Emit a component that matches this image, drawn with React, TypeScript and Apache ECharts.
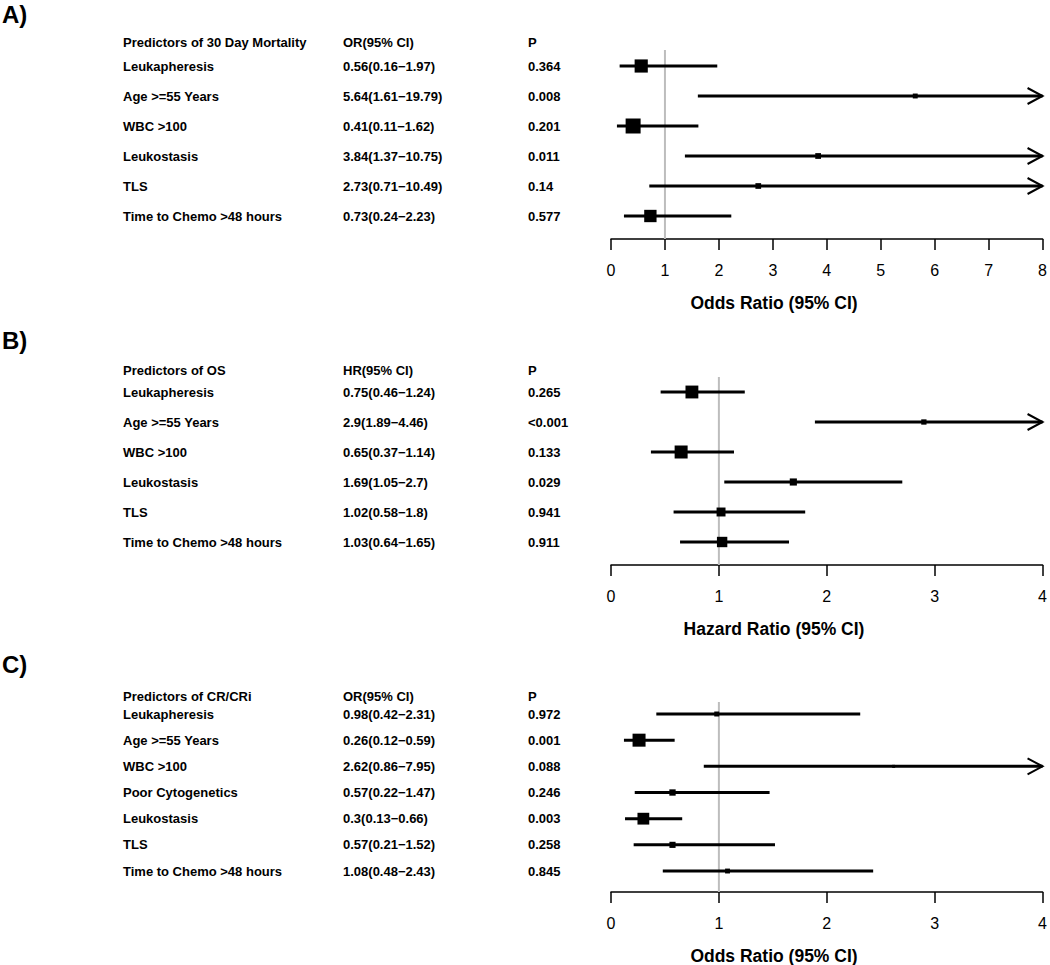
import React, { useEffect, useRef } from "react";
import * as echarts from "echarts";

// ---------- Data ----------
const namesA = ["Leukapheresis", "Age >=55 Years", "WBC >100", "Leukostasis", "TLS", "Time to Chemo >48 hours"];
const estA = [0.56, 5.64, 0.41, 3.84, 2.73, 0.73];
const lowA = [0.16, 1.61, 0.11, 1.37, 0.71, 0.24];
const highA = [1.97, 19.79, 1.62, 10.75, 10.49, 2.23];
const pA = ["0.364", "0.008", "0.201", "0.011", "0.14", "0.577"];

const namesB = ["Leukapheresis", "Age >=55 Years", "WBC >100", "Leukostasis", "TLS", "Time to Chemo >48 hours"];
const estB = [0.75, 2.9, 0.65, 1.69, 1.02, 1.03];
const lowB = [0.46, 1.89, 0.37, 1.05, 0.58, 0.64];
const highB = [1.24, 4.46, 1.14, 2.7, 1.8, 1.65];
const pB = ["0.265", "<0.001", "0.133", "0.029", "0.941", "0.911"];

const namesC = ["Leukapheresis", "Age >=55 Years", "WBC >100", "Poor Cytogenetics", "Leukostasis", "TLS", "Time to Chemo >48 hours"];
const estC = [0.98, 0.26, 2.62, 0.57, 0.3, 0.57, 1.08];
const lowC = [0.42, 0.12, 0.86, 0.22, 0.13, 0.21, 0.48];
const highC = [2.31, 0.59, 7.95, 1.47, 0.66, 1.52, 2.43];
const pC = ["0.972", "0.001", "0.088", "0.246", "0.003", "0.258", "0.845"];

const xTicksA = [0, 8];
const xTicksBC = [0, 4];

// ---------- Layout ----------
const FONT = '"Liberation Sans", Arial, Helvetica, sans-serif';
const GRID_LEFT = 611;
const GRID_WIDTH = 435;

const panels = [
  {
    label: "A)", labelY: 14,
    header: "Predictors of 30 Day Mortality", effHeader: "OR(95% CI)", axisTitle: "Odds Ratio (95% CI)",
    names: namesA, est: estA, low: lowA, high: highA, p: pA, xRange: xTicksA,
    row1Y: 66, spacing: 30, axisY: 239, headerY: 42, refTopY: 50, titleY: 303, boxMin: 4, boxMax: 15,
  },
  {
    label: "B)", labelY: 340,
    header: "Predictors of OS", effHeader: "HR(95% CI)", axisTitle: "Hazard Ratio (95% CI)",
    names: namesB, est: estB, low: lowB, high: highB, p: pB, xRange: xTicksBC,
    row1Y: 392, spacing: 30, axisY: 565, headerY: 370, refTopY: 377, titleY: 629, boxMin: 2, boxMax: 13,
  },
  {
    label: "C)", labelY: 664,
    header: "Predictors of CR/CRi", effHeader: "OR(95% CI)", axisTitle: "Odds Ratio (95% CI)",
    names: namesC, est: estC, low: lowC, high: highC, p: pC, xRange: xTicksBC,
    row1Y: 714, spacing: 26.17, axisY: 892, headerY: 696, refTopY: 702, titleY: 956, boxMin: 2.3, boxMax: 13,
  },
];

function buildOption() {
  const grid: any[] = [];
  const xAxis: any[] = [];
  const yAxis: any[] = [];
  const series: any[] = [];
  const graphic: any[] = [];

  panels.forEach((pn, i) => {
    const top = pn.row1Y - pn.spacing;
    const yMax = (pn.axisY - top) / pn.spacing;
    const headerIdx = (pn.headerY - top) / pn.spacing;
    const refTopIdx = (pn.refTopY - top) / pn.spacing;
    const xMin = pn.xRange[0];
    const xMax = pn.xRange[1];

    grid.push({ left: GRID_LEFT, width: GRID_WIDTH, top, height: pn.axisY - top, containLabel: false });
    xAxis.push({
      gridIndex: i, type: "value", min: xMin, max: xMax, interval: 1,
      axisLine: { show: true, onZero: false, lineStyle: { color: "#000", width: 1.5 } },
      axisTick: { show: true, length: 11, lineStyle: { color: "#000", width: 1.5 } },
      axisLabel: { color: "#000", fontSize: 16, fontFamily: FONT, margin: 23 },
      splitLine: { show: false },
    });
    yAxis.push({ gridIndex: i, type: "value", inverse: true, min: 0, max: yMax, show: false });

    // reference line at 1
    series.push({
      type: "line", xAxisIndex: i, yAxisIndex: i, silent: true, symbol: "none", z: 1,
      data: [[1, refTopIdx], [1, yMax]],
      lineStyle: { color: "#bdbdbd", width: 2 },
    });

    // CI lines with arrows
    series.push({
      type: "custom", xAxisIndex: i, yAxisIndex: i, z: 2, silent: true,
      encode: { x: [0, 1], y: 2 },
      data: pn.est.map((_, r) => [pn.low[r], pn.high[r], r + 1]),
      renderItem: (params: any, api: any) => {
        const lo = api.value(0);
        const hi = api.value(1);
        const row = api.value(2);
        const p1 = api.coord([lo, row]);
        const p2 = api.coord([Math.min(hi, xMax), row]);
        const children: any[] = [
          { type: "line", shape: { x1: p1[0], y1: p1[1], x2: p2[0], y2: p2[1] }, style: { stroke: "#000", lineWidth: 3 } },
        ];
        if (hi > xMax) {
          children.push({
            type: "polyline",
            shape: { points: [[p2[0] - 15, p2[1] - 8], [p2[0], p2[1]], [p2[0] - 15, p2[1] + 8]] },
            style: { stroke: "#000", lineWidth: 2, fill: null },
          });
        }
        return { type: "group", children };
      },
    });

    // boxes: size proportional to inverse CI width
    const inv = pn.est.map((_, r) => 1 / (pn.high[r] - pn.low[r]));
    const maxInv = Math.max(...inv);
    series.push({
      type: "scatter", xAxisIndex: i, yAxisIndex: i, z: 3, silent: true,
      symbol: "rect",
      symbolSize: (_v: any, params: any) => pn.boxMin + (pn.boxMax - pn.boxMin) * (inv[params.dataIndex] / maxInv),
      itemStyle: { color: "#000", opacity: 1 },
      data: pn.est.map((e, r) => [e, r + 1]),
    });

    // table text
    const col1 = [pn.header, ...pn.names];
    const col2 = [pn.effHeader, ...pn.est.map((e, r) => `${e}(${pn.low[r]}\u2212${pn.high[r]})`)];
    const col3 = ["P", ...pn.p];
    const rowsIdx = [headerIdx, ...pn.names.map((_, r) => r + 1)];
    series.push({
      type: "custom", xAxisIndex: i, yAxisIndex: i, z: 4, silent: true,
      encode: { x: 0, y: 1 },
      data: rowsIdx.map((ri) => [xMin, ri]),
      renderItem: (params: any, api: any) => {
        const k = params.dataIndex;
        const pt = api.coord([api.value(0), api.value(1)]);
        const mk = (txt: string, dx: number) => ({
          type: "text",
          x: pt[0] - dx,
          y: pt[1],
          style: {
            text: txt, fill: "#000",
            font: `bold 13px ${FONT}`,
            align: "left", verticalAlign: "middle",
            textAlign: "left", textVerticalAlign: "middle",
          },
        });
        return { type: "group", children: [mk(col1[k], 488), mk(col2[k], 268), mk(col3[k], 83)] };
      },
    });

    graphic.push({
      type: "text", x: 2, y: pn.labelY,
      style: {
        text: pn.label, fill: "#000", font: `bold 24px ${FONT}`,
        align: "left", verticalAlign: "middle", textAlign: "left", textVerticalAlign: "middle",
      },
    });
    graphic.push({
      type: "text", x: 774, y: pn.titleY,
      style: {
        text: pn.axisTitle, fill: "#000", font: `bold 17.5px ${FONT}`,
        align: "center", verticalAlign: "middle", textAlign: "center", textVerticalAlign: "middle",
      },
    });
  });

  return { animation: false, backgroundColor: "#fff", grid, xAxis, yAxis, series, graphic };
}

export default function App() {
  const ref = useRef<HTMLDivElement>(null);
  useEffect(() => {
    if (!ref.current) return;
    const chart = echarts.init(ref.current, undefined, { renderer: "svg" });
    chart.setOption(buildOption() as any);
    return () => chart.dispose();
  }, []);
  return <div ref={ref} style={{ position: "absolute", left: 0, top: 0, width: 1050, height: 965, background: "#fff" }} />;
}
